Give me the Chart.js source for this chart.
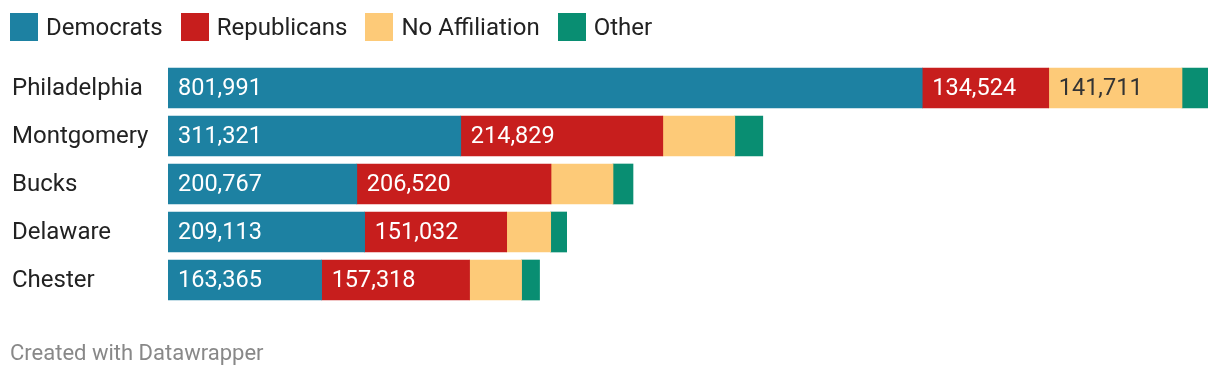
<!DOCTYPE html>
<html><head><meta charset="utf-8">
<script src="https://cdn.jsdelivr.net/npm/chart.js@4"></script>
<style>
html,body{margin:0;padding:0;background:#fff;width:1220px;height:378px;overflow:hidden;font-family:Roboto,sans-serif;}
#wrap{position:absolute;left:0;top:0;width:1220px;height:378px;}
#legend{position:absolute;left:10px;top:13px;height:28px;display:flex;align-items:center;font-size:24px;color:#222;line-height:28px;}
.item{display:flex;align-items:center;margin-right:18px;}
.sw{width:28px;height:28px;margin-right:8px;}
#foot{position:absolute;left:10px;top:340px;font-size:22px;line-height:26px;color:#888;}
canvas{position:absolute;left:0;top:0;}
</style></head>
<body>
<div id="wrap">
<canvas id="c" width="1220" height="378"></canvas>
<div id="legend"></div>
<div id="foot">Created with Datawrapper</div>
</div>
<script>
const categories = ["Philadelphia","Montgomery","Bucks","Delaware","Chester"];
const democrats = [801991, 311321, 200767, 209113, 163365];
const republicans = [134524, 214829, 206520, 151032, 157318];
const noAffiliation = [141711, 76550, 65900, 46800, 55300];
const other = [27650, 29770, 21270, 17000, 19100];
const seriesNames = ["Democrats","Republicans","No Affiliation","Other"];
const seriesColors = ["#1d81a2","#c71e1d","#fdca78","#098e72"];
const labelColors = ["#ffffff","#ffffff","#333333",null];

const seriesData = [democrats, republicans, noAffiliation, other];
const totals = categories.map((_, i) => seriesData.reduce((s, d) => s + d[i], 0));
const xMax = Math.max(...totals);

const legend = document.getElementById('legend');
seriesNames.forEach((n, i) => {
  const it = document.createElement('div'); it.className = 'item';
  const sw = document.createElement('div'); sw.className = 'sw'; sw.style.background = seriesColors[i];
  const tx = document.createElement('span'); tx.textContent = n;
  it.appendChild(sw); it.appendChild(tx); legend.appendChild(it);
});

const fmt = v => v.toLocaleString('en-US');

const labelPlugin = {
  id: 'labels',
  afterDatasetsDraw(chart) {
    const ctx = chart.ctx;
    const yScale = chart.scales.y;
    ctx.save();
    ctx.textBaseline = 'middle';
    ctx.textAlign = 'left';
    ctx.font = '24px Roboto';
    ctx.fillStyle = '#222';
    categories.forEach((c, i) => {
      ctx.fillText(c, 12, yScale.getPixelForValue(i) + 1);
    });
    ctx.font = '23.5px Roboto';
    chart.data.datasets.forEach((ds, di) => {
      if (!labelColors[di]) return;
      const meta = chart.getDatasetMeta(di);
      meta.data.forEach((bar, i) => {
        const txt = fmt(ds.data[i]);
        const w = ctx.measureText(txt).width;
        const left = Math.min(bar.base, bar.x);
        const bw = Math.abs(bar.x - bar.base);
        if (w + 20 <= bw) {
          ctx.fillStyle = labelColors[di];
          ctx.fillText(txt, left + 10, bar.y + 1);
        }
      });
    });
    ctx.restore();
  }
};

new Chart(document.getElementById('c'), {
  type: 'bar',
  data: {
    labels: categories,
    datasets: seriesData.map((d, i) => ({
      label: seriesNames[i], data: d, backgroundColor: seriesColors[i],
      borderWidth: 0, barThickness: 40
    }))
  },
  options: {
    indexAxis: 'y',
    responsive: false,
    animation: false,
    layout: { padding: { left: 168, right: 12, top: 64, bottom: 74 } },
    plugins: { legend: { display: false }, tooltip: { enabled: false } },
    scales: {
      x: { stacked: true, display: false, min: 0, max: xMax },
      y: { stacked: true, display: false }
    }
  },
  plugins: [labelPlugin]
});
</script>
</body></html>
